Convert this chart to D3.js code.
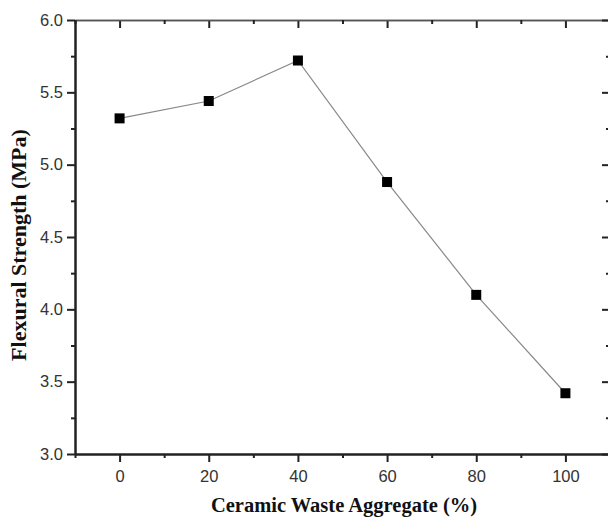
<!DOCTYPE html>
<html>
<head>
<meta charset="utf-8">
<script src="https://cdn.jsdelivr.net/npm/d3@7/dist/d3.min.js"></script>
<style>
  body { margin: 0; background: #fff; }
  svg { display: block; }
</style>
</head>
<body>
<script>
let aggregate = [0, 20, 40, 60, 80, 100];
let strength = [5.32, 5.44, 5.72, 4.88, 4.10, 3.42];
let xTicks = [0, 20, 40, 60, 80, 100];
let yTicks = [3.0, 3.5, 4.0, 4.5, 5.0, 5.5, 6.0];

let width = 608, height = 518;
let margin = { top: 20, right: -2, bottom: 64, left: 75 };

let svg = d3.select('body').append('svg')
    .attr('width', width)
    .attr('height', height);

let xScale = d3.scaleLinear().domain([-10, 110]).range([margin.left, width - margin.right]);
let yScale = d3.scaleLinear().domain([3, 6]).range([height - margin.bottom, margin.top]);

let minorX = d3.range(-10, 111, 10).filter(v => v % 20 !== 0);
let minorY = d3.range(3.25, 6, 0.5);

// bottom axis, ticks outside
svg.append('g')
    .attr('transform', `translate(0, ${yScale(3)})`)
    .call(d3.axisBottom(xScale).tickValues(xTicks).tickSize(8).tickPadding(8).tickSizeOuter(0));
svg.append('g')
    .attr('transform', `translate(0, ${yScale(3)})`)
    .call(d3.axisBottom(xScale).tickValues(minorX).tickSize(4).tickFormat('').tickSizeOuter(0));

// top axis, ticks inside
svg.append('g')
    .attr('class', 'top')
    .attr('transform', `translate(0, ${yScale(6)})`)
    .call(d3.axisBottom(xScale).tickValues(xTicks).tickSize(8).tickFormat('').tickSizeOuter(0));
svg.append('g')
    .attr('class', 'top')
    .attr('transform', `translate(0, ${yScale(6)})`)
    .call(d3.axisBottom(xScale).tickValues(minorX).tickSize(4).tickFormat('').tickSizeOuter(0));

// left axis, ticks outside
svg.append('g')
    .attr('transform', `translate(${xScale(-10)}, 0)`)
    .call(d3.axisLeft(yScale).tickValues(yTicks).tickSize(8).tickPadding(4).tickFormat(d3.format('.1f')).tickSizeOuter(0));
svg.append('g')
    .attr('transform', `translate(${xScale(-10)}, 0)`)
    .call(d3.axisLeft(yScale).tickValues(minorY).tickSize(4).tickFormat('').tickSizeOuter(0));

// right axis, ticks inside
svg.append('g')
    .attr('transform', `translate(${xScale(110)}, 0)`)
    .call(d3.axisRight(yScale).tickValues(yTicks).tickSize(-8).tickFormat('').tickSizeOuter(0));
svg.append('g')
    .attr('transform', `translate(${xScale(110)}, 0)`)
    .call(d3.axisRight(yScale).tickValues(minorY).tickSize(-4).tickFormat('').tickSizeOuter(0));

svg.selectAll('.domain').attr('stroke', '#222').attr('stroke-width', 2);
svg.selectAll('.tick line').attr('stroke', '#222').attr('stroke-width', 2);
svg.selectAll('.top .domain').attr('stroke', '#555').attr('stroke-width', 1.6);
svg.selectAll('.tick text')
    .attr('fill', '#333')
    .style('font-family', '"Liberation Sans", Arial, sans-serif')
    .style('font-size', '16.5px');

// data line
let line = d3.line()
    .x((d, i) => xScale(aggregate[i]))
    .y(d => yScale(d));

svg.append('path')
    .datum(strength)
    .attr('d', line)
    .attr('fill', 'none')
    .attr('stroke', '#888')
    .attr('stroke-width', 1.2);

let size = 10;
svg.selectAll('rect.pt')
    .data(strength)
    .enter()
    .append('rect')
    .attr('class', 'pt')
    .attr('x', (d, i) => xScale(aggregate[i]) - size / 2)
    .attr('y', d => yScale(d) - size / 2)
    .attr('width', size)
    .attr('height', size)
    .attr('fill', '#000');

// titles
svg.append('text')
    .attr('x', 344)
    .attr('y', 512)
    .attr('text-anchor', 'middle')
    .style('font-family', '"Liberation Serif", "Times New Roman", serif')
    .style('font-weight', 'bold')
    .style('font-size', '20.5px')
    .attr('fill', '#111')
    .text('Ceramic Waste Aggregate (%)');

svg.append('text')
    .attr('transform', `translate(26, 245) rotate(-90)`)
    .attr('text-anchor', 'middle')
    .style('font-family', '"Liberation Serif", "Times New Roman", serif')
    .style('font-weight', 'bold')
    .style('font-size', '22px')
    .attr('fill', '#111')
    .text('Flexural Strength (MPa)');
</script>
</body>
</html>
